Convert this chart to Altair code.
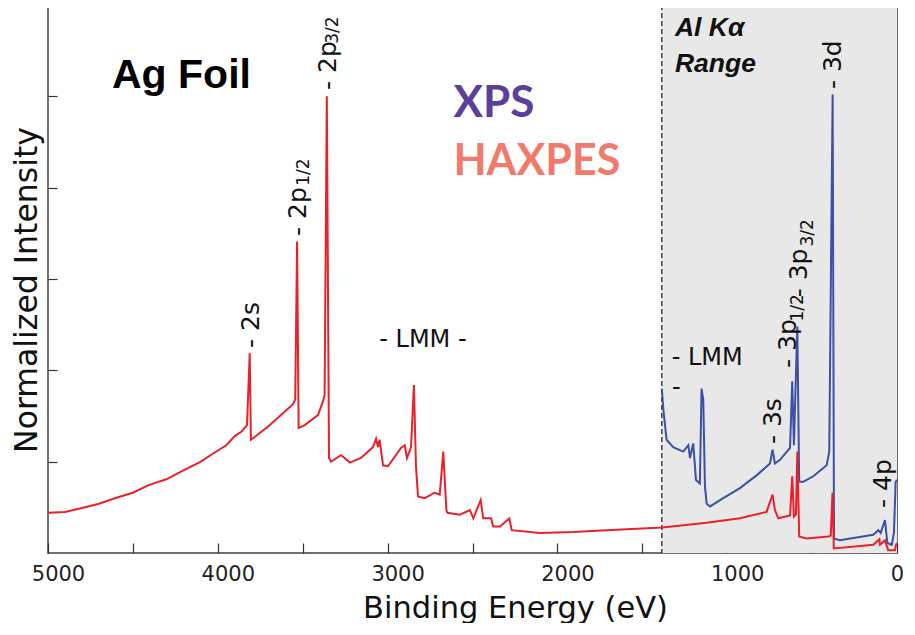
import altair as alt
import pandas as pd

# ---------------- data (binding energy in eV, normalized intensity) ----------------
haxpes_e = [5000, 4900, 4806, 4700, 4607, 4500, 4411, 4300, 4217, 4100, 4018, 3950, 3900,
            3860, 3828, 3812, 3805, 3783, 3700, 3628, 3557,
            3544, 3533, 3524, 3488, 3410, 3381, 3371, 3358, 3345, 3333, 3275, 3253, 3223,
            3157, 3086, 3068, 3057, 3047, 3027, 2998, 2921, 2899, 2886, 2862, 2845, 2833,
            2821, 2782, 2723, 2693, 2672, 2654, 2648, 2574, 2515, 2495, 2452, 2437, 2391,
            2378, 2338, 2283, 2269, 2103, 1906, 1710, 1382, 1121, 925, 768, 733, 719, 699,
            630, 617, 607, 595, 587, 576, 532, 405, 390, 380, 372, 140, 104, 100, 71, 52, 12,
            6, 0]
haxpes_i = [0.44, 0.45, 0.49, 0.54, 0.60, 0.66, 0.74, 0.81, 0.89, 1.00, 1.10, 1.18, 1.28,
            1.33, 1.40, 2.19, 1.24, 1.27, 1.39, 1.51, 1.63,
            1.68, 3.41, 1.37, 1.40, 1.51, 1.66, 1.73, 5.00, 1.04, 1.00, 1.07, 1.04, 0.99,
            1.04, 1.16, 1.25, 1.16, 1.24, 0.96, 0.95, 1.15, 1.18, 1.04, 1.16, 1.84, 0.95,
            0.62, 0.60, 0.66, 0.64, 1.11, 0.47, 0.44, 0.42, 0.47, 0.38, 0.58, 0.38, 0.38,
            0.29, 0.29, 0.38, 0.25, 0.22, 0.23, 0.25, 0.28, 0.33, 0.38, 0.45, 0.64, 0.47, 0.38,
            0.41, 0.84, 0.40, 0.42, 1.11, 0.18, 0.16, 0.18, 0.19, 0.66, 0.05, 0.09, 0.15, 0.09,
            0.14, 0.03, 0.03, 0.09, 0.11]

xps_e = [1385, 1376, 1357, 1318, 1259, 1229, 1219, 1200, 1184, 1161, 1151, 1141, 1131, 1121,
         1101, 1023, 925, 827, 748, 733, 719, 689, 630, 617, 607, 587, 576, 552, 493, 414,
         399, 379, 371, 336, 140, 110, 96, 71, 57, 31, 18, 8, 0]
xps_i = [1.80, 1.57, 1.24, 1.16, 1.11, 1.18, 1.04, 1.20, 0.80, 0.76, 1.80, 1.68, 0.73, 0.54,
         0.51, 0.60, 0.71, 0.85, 0.98, 1.13, 0.98, 1.02, 1.15, 1.88, 1.18, 2.48, 0.78, 0.78,
         0.84, 0.96, 1.11, 5.02, 0.16, 0.14, 0.20, 0.25, 0.22, 0.36, 0.11, 0.09, 0.22, 0.78, 0.80]

al_ka_edge = 1385
x_ticks = [0, 500, 1000, 1500, 2000, 2500, 3000, 3500, 4000, 4500, 5000]
y_ticks = [1, 2, 3, 4, 5]
y_max = 6

peak_text = ["- 2s", "- 2p", "- 2p", "- 3s", "- 3p", "- 3p", "- 3d", "- 4p"]
peak_e = [3806, 3530, 3349, 730, 642, 580, 377, 83]
peak_i = [2.245, 3.471, 5.07, 1.193, 2.026, 2.80, 5.08, 0.493]

sub_text = ["1/2", "3/2", "1/2", "3/2"]
sub_e = [3492, 3320, 583, 524]
sub_i = [4.02, 5.575, 2.535, 3.355]

auger_text = ["- LMM -", "- LMM", "-"]
auger_e = [2792, 1327, 1325]
auger_i = [2.256, 2.058, 1.73]
auger_align = ["center", "left", "left"]

# ---------------- encodings ----------------
xscale = alt.Scale(domain=[0, 5000], reverse=True, nice=False, zero=False)
yscale = alt.Scale(domain=[0, y_max], nice=False, zero=False)

x_axis = alt.Axis(
    values=x_ticks, format="d",
    labelExpr="datum.value % 1000 === 0 ? datum.label : ''",
    labelFlush=False, labelOverlap=False,
    labelOffset={"condition": {"test": "datum.value === 0", "value": 0}, "value": 10},
    tickSize={"expr": "-10"}, tickColor="#333333", tickWidth=1.2,
    labelPadding=20, labelFont="DejaVu Sans", labelFontSize=21, labelColor="#222222",
    domain=False, grid=False,
    title="Binding Energy (eV)", titleFont="DejaVu Sans", titleFontSize=30.5,
    titleFontWeight="normal", titleColor="#111111", titleX=467, titleY=64,
    titleAlign="center", titleBaseline="alphabetic",
)
y_axis = alt.Axis(
    values=y_ticks, labels=False,
    tickSize={"expr": "-9"}, tickColor="#333333", tickWidth=1.2,
    domain=False, grid=False,
    title="Normalized Intensity", titleFont="DejaVu Sans", titleFontSize=31.5,
    titleFontWeight="normal", titleColor="#111111", titleAngle=270,
    titleX=-11.5, titleY=284.5, titleAlign="center", titleBaseline="alphabetic",
)
x_enc = alt.X("E:Q", scale=xscale, axis=x_axis)
y_enc = alt.Y("I:Q", scale=yscale, axis=y_axis)

# ---------------- layers ----------------
shade = alt.Chart(pd.DataFrame({"E": [al_ka_edge], "E2": [0]})).mark_rect(
    color="#e8e8e8").encode(x=x_enc, x2="E2:Q", y=alt.value(0), y2=alt.value(548))

edge = alt.Chart(pd.DataFrame({"E": [al_ka_edge]})).mark_rule(
    color="#111111", strokeWidth=1.2, strokeDash=[5, 3]).encode(
    x=x_enc, y=alt.value(0), y2=alt.value(548))

xps = alt.Chart(pd.DataFrame({"E": xps_e, "I": xps_i})).mark_line(
    color="#3b50a6", strokeWidth=2).encode(x=x_enc, y=y_enc)
haxpes = alt.Chart(pd.DataFrame({"E": haxpes_e, "I": haxpes_i})).mark_line(
    color="#e8212b", strokeWidth=2).encode(x=x_enc, y=y_enc)


def text_layer(df, **kw):
    return alt.Chart(df).mark_text(**kw).encode(x=x_enc, y=y_enc, text="t:N")


peaks = text_layer(pd.DataFrame({"t": peak_text, "E": peak_e, "I": peak_i}),
                   font="DejaVu Sans", fontSize=25, color="#111111", angle=270,
                   align="left", baseline="middle")
subs = text_layer(pd.DataFrame({"t": sub_text, "E": sub_e, "I": sub_i}),
                  font="DejaVu Sans", fontSize=17, color="#111111", angle=270,
                  align="left", baseline="middle")
auger_df = pd.DataFrame({"t": auger_text, "E": auger_e, "I": auger_i, "a": auger_align})
auger_c = text_layer(auger_df[auger_df.a == "center"], font="DejaVu Sans", fontSize=24,
                     color="#111111", align="center", baseline="alphabetic")
auger_l = text_layer(auger_df[auger_df.a == "left"], font="DejaVu Sans", fontSize=24,
                     color="#111111", align="left", baseline="alphabetic")

title_ag = text_layer(pd.DataFrame({"t": ["Ag Foil"], "E": [4214], "I": [5.09]}),
                      font="Liberation Sans", fontSize=41, fontWeight="bold",
                      color="#000000", align="center", baseline="alphabetic")
leg_xps = text_layer(pd.DataFrame({"t": ["XPS"], "E": [2612], "I": [4.774]}),
                     font="Lato", fontSize=44, fontWeight="bold", color="#5a3f9b",
                     align="left", baseline="alphabetic")
leg_hax = text_layer(pd.DataFrame({"t": ["HAXPES"], "E": [2612], "I": [4.139]}),
                     font="Lato", fontSize=43, fontWeight="bold", color="#f07b6c",
                     align="left", baseline="alphabetic")
range_lbl = text_layer(pd.DataFrame({"t": ["Al Kα", "Range"], "E": [1308, 1308],
                                     "I": [5.661, 5.267]}),
                       font="Liberation Sans", fontSize=26.5, fontWeight="bold",
                       fontStyle="italic", color="#111111", align="left",
                       baseline="alphabetic")

chart = alt.layer(
    shade, edge, xps, haxpes, peaks, subs, auger_c, auger_l,
    title_ag, leg_xps, leg_hax, range_lbl,
).properties(
    width=849, height=548,
    autosize=alt.AutoSizeParams(type="none"),
    padding={"left": 40, "top": -3, "right": 10, "bottom": 70},
    background="white",
).configure_view(stroke="#404040", strokeWidth=1.5)

chart.save("out.html", embed_options={"renderer": "svg", "actions": False})
